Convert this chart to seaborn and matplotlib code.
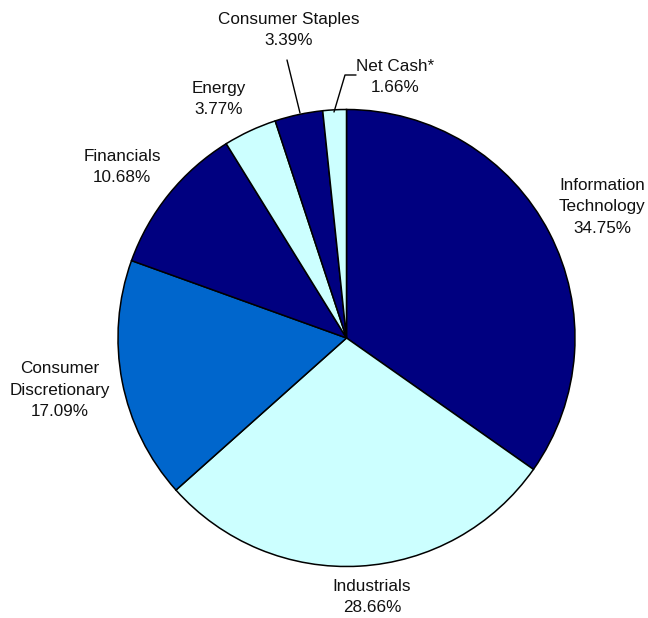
import matplotlib
matplotlib.use("Agg")
import matplotlib.pyplot as plt
import seaborn as sns

sectors = ["Information\nTechnology", "Industrials", "Consumer\nDiscretionary",
           "Financials", "Energy", "Consumer Staples", "Net Cash*"]
weights = [34.75, 28.66, 17.09, 10.68, 3.77, 3.39, 1.66]
colors = ["#000080", "#CCFFFF", "#0066CC", "#000080", "#CCFFFF", "#000080", "#CCFFFF"]

# label layout (pixel positions, y from top)
label_pos = [(602, 207), (372, 597), (60, 390), (122, 167), (219, 99), (289, 30), (395, 77)]
leaders = {5: [(287, 60), (300, 113)], 6: [(356, 75), (345, 75), (334, 112)]}

sns.set_theme(style="white")
plt.rcParams['font.family'] = ['Liberation Sans', 'DejaVu Sans']

W, H = 648, 618
fig = plt.figure(figsize=(W / 100, H / 100), dpi=100)
ax = fig.add_axes([0, 0, 1, 1])

ax.pie(weights, colors=colors, startangle=90, counterclock=False,
       center=(346.5, H - 338), radius=228.5,
       wedgeprops=dict(edgecolor="black", linewidth=1.1), frame=True)
ax.set_xlim(0, W)
ax.set_ylim(0, H)
ax.axis("off")

for i, (name, w) in enumerate(zip(sectors, weights)):
    x, y = label_pos[i]
    ax.text(x, H - y, f"{name}\n{w:.2f}%", ha="center", va="center",
            fontsize=12.3, color="#111111", linespacing=1.55)

for i, pts in leaders.items():
    xs = [p[0] for p in pts]
    ys = [H - p[1] for p in pts]
    ax.plot(xs, ys, color="black", linewidth=1)

fig.savefig("out.png", dpi=100, facecolor="white")
